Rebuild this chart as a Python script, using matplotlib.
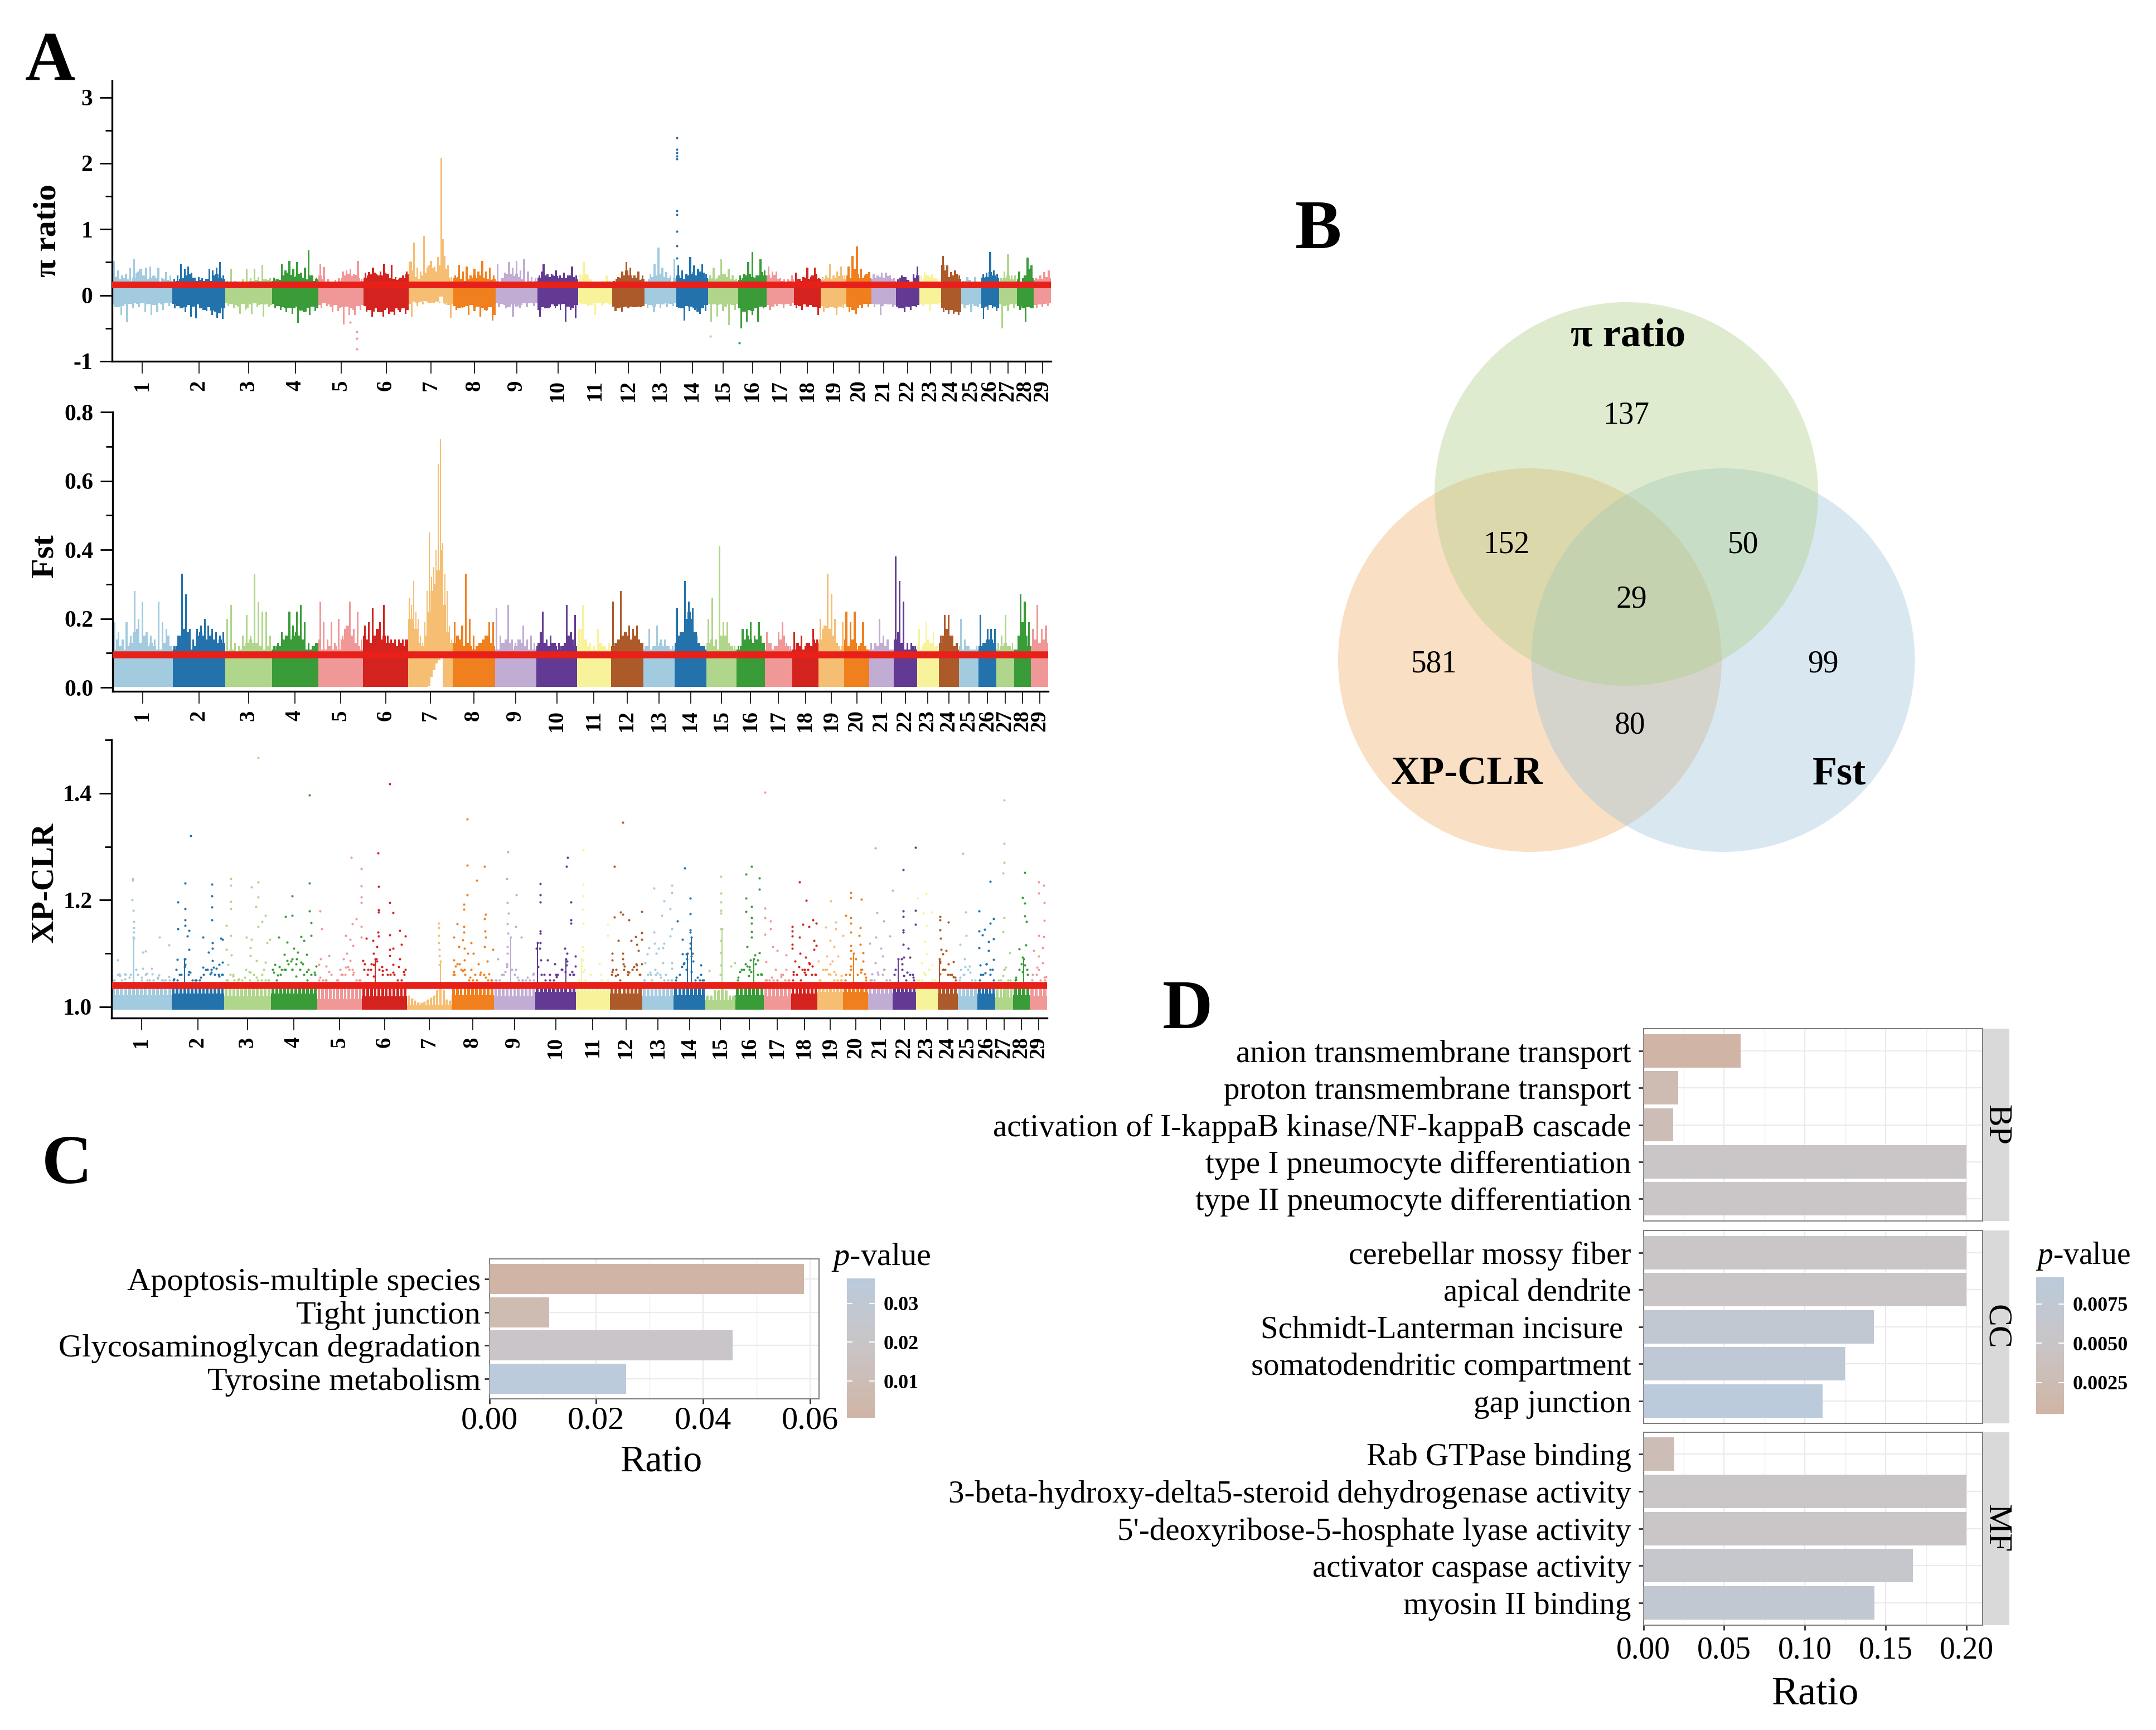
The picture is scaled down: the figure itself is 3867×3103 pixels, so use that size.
"""Selection-scan figure: three Manhattan panels, a Venn diagram and two enrichment bar panels."""
from __future__ import annotations

import numpy as np
import matplotlib

matplotlib.use("Agg")
import matplotlib.pyplot as plt
from matplotlib.colors import LinearSegmentedColormap, Normalize
from matplotlib.patches import Circle

W, H = 3867, 3103
SERIF = ["Liberation Serif", "DejaVu Sans"]
plt.rcParams["font.family"] = SERIF
plt.rcParams["axes.unicode_minus"] = False
plt.rcParams["mathtext.fontset"] = "custom"
plt.rcParams["mathtext.rm"] = "Liberation Serif"
plt.rcParams["mathtext.it"] = "Liberation Serif:italic"

# --------------------------------------------------------------------------- #
# Data: panel A
# --------------------------------------------------------------------------- #
chrom_labels = [str(i) for i in range(1, 30)]
chrom_lengths = [108, 95, 84, 83, 81, 81, 80, 76, 75, 73, 61, 58, 57, 57, 54, 51, 49,
                 48, 46, 45, 44, 42, 39, 36, 36, 32, 32, 30, 31]
palette = ["#A3CBDF", "#2372AC", "#AFD68A", "#3A9C38", "#F09898", "#D4231F",
           "#F5BE72", "#F07F1E", "#C1ACD3", "#623A94", "#F8F39A", "#AD5A2B"]

pi_line = 0.159
fst_line = 0.0955
xp_line = 1.041

# thin spikes above the threshold
pi_tips = [
    [.52, .38, .3, .33, .42, .55, .36, .3, .42, .44, .3, .42, .26, .35, .3],
    [.25, .3, .47, .4, .44, .34, .22, .28, .26, .2, .4, .38, .42, .5, .3],
    [.22, .4, .22, .21, .24, .4, .26, .4, .28, .46, .24, .26],
    [.27, .24, .48, .38, .52, .4, .5, .34, .42, .68, .3, .27],
    [.48, .43, .25, .21, .23, .26, .36, .38, .4, .32, .52, .25],
    [.34, .35, .42, .33, .36, .48, .28, .46, .28, .24, .3, .36],
    [.52, .8, .42, .36, .9, .42, .52, .44, .58, 2.08, .6, .45, .28],
    [.3, .46, .36, .44, .3, .4, .36, .52, .36, .42, .3],
    [.47, .26, .34, .5, .42, .52, .38, .55, .36, .28, .26],
    [.3, .47, .32, .33, .38, .3, .34, .3, .44, .3],
    [.32, .5, .3, .2, .21, .21, .22, .3, .2],
    [.22, .28, .36, .5, .42, .3, .36, .3],
    [.22, .32, .48, .72, .42, .35, .3, .55],
    [.45, .38, .33, .58, .45, .4, .47, .32],
    [.3, .42, .27, .55, .32, .4, .3, .25],
    [.3, .33, .5, .66, .3, .55, .38],
    [.44, .36, .36, .26, .24, .24, .3],
    [.34, .24, .28, .42, .28, .42, .26],
    [.28, .3, .48, .3, .36, .44, .3],
    [.44, .6, .74, .4, .3, .35],
    [.32, .3, .34, .34, .3, .26],
    [.24, .3, .28, .2, .32, .44],
    [.3, .36, .3, .32, .26, .2],
    [.6, .45, .35, .38, .3],
    [.22, .28, .2, .28, .2],
    [.32, .34, .66, .38, .32],
    [.26, .36, .62, .3, .3],
    [.36, .26, .57, .45],
    [.26, .3, .35, .38],
]
# dense profile just above the threshold
pi_fill = [
    [.3, .28, .25, .26, .24, .22, .27, .34, .4, .3, .24, .27, .29, .26, .21, .24, .23, .22],
    [.21, .22, .25, .26, .3, .33, .27, .22, .23, .22, .25, .22, .3, .32, .27, .25],
    [.2, .21, .2, .2, .2, .21, .21, .22, .22, .23, .22, .24, .23, .22],
    [.22, .24, .23, .3, .34, .31, .28, .3, .33, .27, .24, .3, .22, .24],
    [.3, .25, .2, .21, .19, .21, .22, .27, .3, .33, .29, .31, .26, .22],
    [.27, .3, .32, .34, .3, .3, .34, .33, .26, .25, .23, .27, .26, .32],
    [.5, .38, .28, .25, .3, .34, .45, .42, .36, .45, .85, .4, .27, .22],
    [.26, .28, .25, .22, .24, .27, .3, .26, .3, .27, .25, .23, .25],
    [.22, .2, .27, .33, .32, .29, .33, .28, .24, .21, .22, .21, .22],
    [.27, .36, .3, .28, .3, .29, .26, .27, .26, .3, .28, .24],
    [.2, .3, .32, .24, .2, .19, .19, .2, .22, .2],
    [.21, .25, .27, .3, .38, .3, .26, .27, .23, .25],
    [.2, .24, .28, .3, .33, .3, .28, .26, .2, .26],
    [.3, .26, .25, .3, .33, .35, .3, .36, .34, .26],
    [.24, .26, .24, .3, .33, .28, .24, .23, .22],
    [.23, .26, .3, .33, .28, .27, .3, .35, .3],
    [.3, .27, .31, .25, .22, .2, .22, .24],
    [.2, .25, .22, .27, .25, .3, .33, .25],
    [.23, .25, .27, .24, .26, .29, .3, .24],
    [.3, .26, .4, .32, .26, .27, .33, .26],
    [.25, .27, .28, .27, .29, .25, .22],
    [.21, .27, .28, .23, .2, .27, .3],
    [.22, .27, .3, .28, .26, .25, .2],
    [.46, .38, .28, .3, .33, .25],
    [.2, .22, .23, .2, .2, .2],
    [.27, .28, .35, .3, .27],
    [.22, .26, .3, .24, .22],
    [.24, .2, .3, .4, .26],
    [.23, .24, .25, .28, .26],
]
pi_down = [
    [-.18, -.3, -.41, -.2, -.18, -.26, -.3, -.26, -.22, -.16],
    [-.2, -.2, -.26, -.32, -.35, -.2, -.24, -.3, -.34, -.36],
    [-.16, -.2, -.28, -.22, -.28, -.18, -.32, -.18],
    [-.2, -.22, -.26, -.28, -.42, -.26, -.3, -.24],
    [-.2, -.16, -.26, -.24, -.44, -.3, -.3, -.22],
    [-.25, -.32, -.26, -.32, -.28, -.3, -.26, -.28],
    [-.32, -.16, -.14, -.12, -.12, -.12, -.14, -.34],
    [-.22, -.2, -.3, -.24, -.32, -.24, -.38],
    [-.18, -.2, -.32, -.2, -.18, -.16],
    [-.32, -.2, -.18, -.2, -.22, -.4, -.22, -.35],
    [-.14, -.16, -.3, -.16, -.14],
    [-.24, -.25, -.2, -.18, -.18],
    [-.2, -.26, -.2, -.18, -.16],
    [-.2, -.38, -.24, -.22, -.28, -.24],
    [-.4, -.32, -.24, -.45, -.22],
    [-.5, -.4, -.3, -.4, -.2],
    [-.22, -.16, -.2, -.16],
    [-.2, -.22, -.16, -.18, -.3],
    [-.26, -.16, -.3, -.2],
    [-.26, -.28, -.2, -.18],
    [-.18, -.3, -.14, -.18],
    [-.2, -.26, -.22, -.18],
    [-.16, -.24, -.14],
    [-.26, -.28, -.28, -.3],
    [-.2, -.26, -.18],
    [-.36, -.22, -.2, -.24],
    [-.5, -.24, -.2],
    [-.22, -.4, -.18],
    [-.2, -.18, -.16],
]
pi_band = [
    [-.14, -.18, -.16, -.14, -.13, -.12, -.13, -.12, -.14, -.13, -.15, -.12, -.14, -.11, -.12],
    [-.13, -.16, -.2, -.18, -.15, -.17, -.14, -.2, -.22, -.18, -.23, -.25, -.27, -.2],
    [-.12, -.13, -.15, -.17, -.13, -.2, -.14, -.12, -.15, -.13, -.14, -.15],
    [-.13, -.16, -.18, -.2, -.19, -.2, -.17, -.23, -.25, -.19, -.17, -.2],
    [-.15, -.12, -.14, -.17, -.15, -.2, -.18, -.17, -.2, -.22, -.16, -.15],
    [-.16, -.22, -.25, -.2, -.26, -.22, -.2, -.25, -.2, -.22, -.2, -.22],
    [-.13, -.1, -.11, -.1, -.09, -.1, -.11, -.1, -.1, -.02, -.12, -.15, -.13],
    [-.16, -.2, -.18, -.16, -.15, -.18, -.17, -.2, -.22, -.18, -.3],
    [-.12, -.13, -.15, -.18, -.14, -.17, -.15, -.12, -.12, -.11, -.12],
    [-.22, -.18, -.2, -.14, -.16, -.14, -.13, -.17, -.2, -.15],
    [-.12, -.13, -.14, -.15, -.12, -.12, -.13, -.12, -.14],
    [-.17, -.2, -.18, -.17, -.17, -.18, -.17, -.16],
    [-.13, -.15, -.17, -.13, -.14, -.12, -.13, -.12],
    [-.18, -.2, -.16, -.17, -.2, -.25, -.2, -.15],
    [-.13, -.14, -.15, -.14, -.17, -.14, -.15, -.13],
    [-.2, -.25, -.22, -.24, -.2, -.17, -.18],
    [-.15, -.17, -.14, -.13, -.14, -.13, -.12],
    [-.15, -.16, -.14, -.17, -.15, -.18, -.2],
    [-.16, -.2, -.18, -.2, -.17, -.14],
    [-.18, -.22, -.2, -.15, -.13, -.13],
    [-.13, -.14, -.16, -.13, -.14, -.15],
    [-.17, -.2, -.17, -.18, -.16, -.15],
    [-.13, -.14, -.13, -.13, -.12],
    [-.2, -.22, -.22, -.25, -.26],
    [-.14, -.15, -.13, -.16, -.13],
    [-.2, -.17, -.15, -.17, -.2],
    [-.14, -.16, -.15, -.13, -.14],
    [-.16, -.2, -.18, -.2],
    [-.15, -.14, -.13, -.12],
]
# isolated points as chromosome index, position within chromosome, value
pi_chr = [13, 13, 13, 13, 13, 13, 13, 13, 13, 13, 4, 4, 4, 4, 14, 15]
pi_pos = [.02, .02, .02, .02, .02, .02, .02, .02, .02, .02, .85, .85, .85, .7, .08, .03]
pi_val = [2.39, 2.21, 2.16, 2.11, 2.07, 1.28, 1.22, .97, .75, .56,
          -.55, -.65, -.81, -.41, -.62, -.72]

fst_tips = [
    [.19, .16, .14, .19, .15, .28, .2, .25, .16, .15, .14, .25, .19, .17, .12],
    [.12, .15, .33, .27, .17, .14, .17, .18, .2, .18, .17, .16, .15, .16],
    [.2, .24, .13, .12, .15, .21, .15, .33, .25, .22, .22, .15],
    [.12, .13, .16, .15, .22, .18, .22, .24, .19, .13, .12, .11],
    [.25, .19, .14, .19, .13, .2, .15, .18, .25, .17, .22, .14],
    [.18, .19, .23, .14, .19, .24, .15, .14, .14, .14, .14, .14],
    [.26, .24, .31, .22, .2, .15, .13, .19, .28, .45, .32, .35, .4, .65, .72, .42, .33, .28, .18, .14],
    [.19, .14, .18, .33, .2, .15, .12, .13, .15, .19, .19],
    [.23, .15, .13, .24, .14, .13, .14, .18, .14, .15, .13],
    [.13, .22, .14, .15, .13, .13, .12, .24, .16, .21],
    [.17, .24, .14, .13, .12, .17, .13, .12, .13],
    [.25, .13, .28, .16, .18, .17, .18, .13],
    [.12, .17, .12, .18, .14, .14, .12, .12],
    [.23, .16, .31, .25, .23, .15, .12, .12],
    [.2, .26, .14, .41, .19, .19, .12, .12],
    [.12, .17, .17, .19, .15, .19, .12],
    [.16, .13, .12, .16, .19, .13, .12],
    [.16, .13, .15, .12, .13, .17, .14],
    [.2, .18, .33, .27, .2, .12, .19],
    [.22, .19, .22, .12, .19, .11],
    [.13, .13, .2, .15, .14, .11],
    [.38, .31, .25, .13, .13, .12],
    [.17, .12, .19, .13, .16, .12],
    [.15, .21, .21, .15, .13],
    [.2, .14, .12, .11, .12],
    [.21, .13, .17, .17, .17],
    [.13, .15, .21, .12, .13],
    [.11, .27, .25, .19],
    [.17, .24, .17, .18],
]
fst_fill = [
    [.11, .14, .12, .11, .12, .13, .16, .17, .13, .15, .12, .13, .12, .11, .11, .13, .15, .11],
    [.11, .12, .15, .17, .16, .11, .12, .15, .16, .15, .14, .15, .14, .13, .14, .13],
    [.1, .11, .11, .1, .11, .12, .13, .14, .13, .13, .12, .11, .12, .11],
    [.11, .12, .12, .14, .15, .14, .15, .16, .15, .14, .11, .11, .12, .13],
    [.14, .11, .11, .12, .11, .12, .11, .14, .17, .18, .15, .13, .12, .11],
    [.15, .14, .13, .15, .17, .14, .15, .13, .13, .13, .12, .13, .12, .14],
    [.2, .2, .17, .13, .12, .15, .22, .28, .3, .34, .4, .24, .16, .13],
    [.13, .15, .14, .12, .13, .12, .11, .12, .13, .14, .15, .13, .12],
    [.11, .11, .13, .14, .13, .11, .12, .14, .13, .12, .11, .11, .11],
    [.12, .16, .13, .12, .13, .12, .11, .12, .13, .15, .14, .12],
    [.12, .17, .14, .12, .11, .11, .13, .12, .11, .11],
    [.12, .13, .14, .15, .16, .15, .14, .15, .14, .13],
    [.11, .12, .11, .12, .12, .13, .12, .12, .11, .11],
    [.13, .15, .16, .2, .22, .2, .16, .13, .12, .11],
    [.13, .14, .12, .11, .15, .15, .13, .12, .11],
    [.11, .12, .14, .15, .14, .13, .14, .15, .13],
    [.11, .13, .11, .12, .14, .15, .12, .11],
    [.11, .13, .12, .11, .13, .12, .14, .13],
    [.14, .17, .18, .17, .15, .13, .11, .12],
    [.14, .12, .14, .13, .11, .13, .12, .11],
    [.11, .11, .12, .13, .12, .11, .11],
    [.14, .16, .13, .11, .11, .12, .11],
    [.12, .11, .13, .14, .13, .12, .11],
    [.13, .15, .17, .15, .12, .11],
    [.12, .11, .12, .11, .11, .11],
    [.12, .13, .14, .14, .13],
    [.11, .12, .13, .12, .11],
    [.11, .15, .19, .15, .12],
    [.12, .14, .13, .14, .13],
]
fst_band = [[.002] for _ in chrom_lengths]
fst_band[6] = [.002, .002, .002, .002, .002, .002, .002, .002, .005, .03, .05, .07, .08, .09,
               .002, .002, .002, .002]

xp_floor = 0.9945
xp_solid = [1.022, 1.025, 1.02, 1.025, 1.015, 1.02, 1.004, 1.022, 1.02, 1.028, 1.03, 1.025,
            1.02, 1.022, 1.012, 1.022, 1.02, 1.025, 1.028, 1.028, 1.025, 1.028, 1.034,
            1.025, 1.02, 1.025, 1.018, 1.022, 1.02]
xp_tips = [
    [1.05, 1.06, 1.05, 1.06, 1.055, 1.13, 1.06, 1.05, 1.06, 1.05, 1.05, 1.055, 1.05, 1.05, 1.05],
    [1.05, 1.05, 1.06, 1.09, 1.06, 1.05, 1.05, 1.05, 1.06, 1.07, 1.07, 1.06, 1.06, 1.06],
    [1.05, 1.06, 1.05, 1.05, 1.05, 1.07, 1.05, 1.06, 1.05, 1.05, 1.05, 1.05],
    [1.07, 1.05, 1.06, 1.07, 1.08, 1.07, 1.08, 1.07, 1.06, 1.05, 1.06, 1.06],
    [1.05, 1.05, 1.05, 1.04, 1.04, 1.05, 1.06, 1.06, 1.07, 1.06, 1.05, 1.05],
    [1.07, 1.06, 1.08, 1.09, 1.07, 1.06, 1.07, 1.06, 1.06, 1.05, 1.05, 1.07],
    [1.02, 1.014, 1.01, 1.007, 1.006, 1.008, 1.012, 1.016, 1.02, 1.03, 1.085, 1.03, 1.012, 1.01],
    [1.06, 1.08, 1.07, 1.06, 1.05, 1.05, 1.05, 1.06, 1.06, 1.05, 1.05],
    [1.05, 1.05, 1.06, 1.075, 1.13, 1.06, 1.05, 1.05, 1.05, 1.05, 1.05],
    [1.12, 1.06, 1.05, 1.06, 1.05, 1.06, 1.07, 1.09, 1.06, 1.06],
    [1.04, 1.09, 1.05, 1.04, 1.04, 1.04, 1.04, 1.04, 1.05],
    [1.06, 1.07, 1.05, 1.07, 1.06, 1.07, 1.08, 1.06],
    [1.05, 1.06, 1.05, 1.06, 1.06, 1.05, 1.05, 1.05],
    [1.05, 1.06, 1.08, 1.1, 1.13, 1.05, 1.05, 1.05],
    [1.02, 1.02, 1.03, 1.03, 1.146, 1.03, 1.02, 1.02],
    [1.05, 1.07, 1.08, 1.07, 1.09, 1.06, 1.06],
    [1.05, 1.05, 1.05, 1.05, 1.06, 1.05, 1.05],
    [1.05, 1.06, 1.05, 1.07, 1.07, 1.06, 1.06],
    [1.05, 1.07, 1.07, 1.06, 1.05, 1.05, 1.05],
    [1.05, 1.06, 1.1, 1.06, 1.07, 1.05],
    [1.05, 1.05, 1.06, 1.06, 1.05, 1.04],
    [1.06, 1.09, 1.08, 1.05, 1.06, 1.05],
    [1.05, 1.05, 1.06, 1.07, 1.05, 1.04],
    [1.09, 1.07, 1.06, 1.06, 1.05],
    [1.05, 1.06, 1.07, 1.05, 1.04],
    [1.05, 1.06, 1.08, 1.07, 1.05],
    [1.04, 1.05, 1.07, 1.05, 1.04],
    [1.05, 1.07, 1.09, 1.06],
    [1.05, 1.06, 1.05, 1.05],
]
# second row of points close to the threshold
xp_near = [
    [1.05, 1.058, 1.052, 1.06, 1.07, 1.055, 1.05, 1.062, 1.053, 1.05, 1.056],
    [1.052, 1.06, 1.075, 1.065, 1.05, 1.055, 1.07, 1.065, 1.072, 1.06],
    [1.05, 1.06, 1.052, 1.055, 1.065, 1.055, 1.06, 1.05],
    [1.065, 1.075, 1.07, 1.085, 1.09, 1.08, 1.07, 1.065],
    [1.055, 1.05, 1.06, 1.05, 1.06, 1.075, 1.065, 1.05],
    [1.08, 1.07, 1.09, 1.075, 1.06, 1.065, 1.075, 1.06],
    [1.04],
    [1.06, 1.08, 1.07, 1.055, 1.06, 1.065, 1.055, 1.05],
    [1.05, 1.06, 1.08, 1.07, 1.055, 1.05, 1.055, 1.06],
    [1.075, 1.06, 1.05, 1.06, 1.07, 1.085, 1.06],
    [1.05, 1.07, 1.045, 1.045, 1.05, 1.045],
    [1.07, 1.06, 1.08, 1.065, 1.075, 1.06],
    [1.05, 1.065, 1.07, 1.055, 1.06, 1.05],
    [1.055, 1.075, 1.09, 1.1, 1.055, 1.05],
    [1.045, 1.045, 1.06, 1.045, 1.045],
    [1.055, 1.07, 1.075, 1.08, 1.06],
    [1.05, 1.055, 1.05, 1.06, 1.05],
    [1.06, 1.075, 1.065, 1.08, 1.06],
    [1.05, 1.07, 1.08, 1.06, 1.05],
    [1.06, 1.07, 1.09, 1.065, 1.055],
    [1.05, 1.065, 1.07, 1.05],
    [1.07, 1.09, 1.065, 1.055],
    [1.05, 1.065, 1.07, 1.05],
    [1.085, 1.07, 1.06, 1.055],
    [1.055, 1.075, 1.065, 1.05],
    [1.06, 1.08, 1.07],
    [1.05, 1.07, 1.05],
    [1.055, 1.08, 1.07],
    [1.06, 1.07, 1.055],
]
# (position within chromosome, XP-CLR value), one list per chromosome
xp_points = [
    [(.35, 1.24), (.35, 1.237), (.34, 1.2), (.36, 1.18), (.37, 1.16), (.37, 1.148), (.37, 1.14), (.37, 1.128),
     (.8, 1.13), (.96, 1.116), (.52, 1.102), (.57, 1.104), (.1, 1.088), (.52, 1.072), (.67, 1.072), (.13, 1.061),
     (.22, 1.061), (.59, 1.063), (.79, 1.059)],
    [(.36, 1.32), (.26, 1.232), (.76, 1.23), (.76, 1.208), (.12, 1.196), (.26, 1.184), (.76, 1.187), (.26, 1.163),
     (.76, 1.163), (.26, 1.152), (.12, 1.146), (.33, 1.143), (.3, 1.133), (.6, 1.13), (.77, 1.12), (.93, 1.128),
     (.97, 1.126), (.33, 1.107), (.77, 1.109), (.7, 1.102), (.26, 1.09), (.77, 1.087), (.97, 1.083), (.11, 1.089),
     (.26, 1.079), (.6, 1.074), (.8, 1.074), (.9, 1.079), (.33, 1.066), (.09, 1.07), (.73, 1.061), (.9, 1.057)],
    [(.14, 1.24), (.14, 1.228), (.72, 1.467), (.72, 1.234), (.58, 1.224), (.72, 1.206), (.14, 1.197), (.68, 1.188),
     (.14, 1.184), (.88, 1.171), (.81, 1.16), (.05, 1.152), (.73, 1.15), (.14, 1.134), (.48, 1.13), (.58, 1.126),
     (.98, 1.126), (.92, 1.12), (.56, 1.111), (.04, 1.107), (.15, 1.097), (.56, 1.096), (.69, 1.087), (.88, 1.083),
     (.08, 1.079), (.54, 1.066), (.85, 1.07), (.19, 1.057)],
    [(.83, 1.397), (.83, 1.232), (.46, 1.208), (.83, 1.179), (.46, 1.171), (.32, 1.169), (.87, 1.158), (.87, 1.134),
     (.17, 1.13), (.65, 1.131), (.35, 1.121), (.71, 1.124), (.5, 1.109), (.58, 1.102), (.29, 1.098), (.78, 1.098),
     (.46, 1.09), (.35, 1.087), (.65, 1.083), (.08, 1.079), (.98, 1.076), (.46, 1.07), (.23, 1.07), (.77, 1.066),
     (.15, 1.059), (.54, 1.057)],
    [(.76, 1.28), (.98, 1.259), (.98, 1.226), (.98, 1.206), (.98, 1.195), (.06, 1.179), (.875, 1.165), (.78, 1.155),
     (.1, 1.146), (.98, 1.15), (.64, 1.134), (.98, 1.13), (.74, 1.126), (.8, 1.115), (.66, 1.1), (.27, 1.096),
     (.08, 1.09), (.59, 1.09), (.74, 1.087), (.04, 1.079), (.2, 1.076), (.63, 1.074), (.78, 1.07), (.27, 1.066),
     (.51, 1.07)],
    [(.62, 1.417), (.35, 1.288), (.37, 1.225), (.62, 1.195), (.37, 1.182), (.69, 1.176), (.37, 1.177), (.84, 1.143),
     (.35, 1.14), (.62, 1.135), (.37, 1.133), (.96, 1.133), (.09, 1.128), (.24, 1.124), (.88, 1.117), (.33, 1.113),
     (.69, 1.109), (.62, 1.107), (.25, 1.1), (.62, 1.096), (.84, 1.09), (.02, 1.087), (.33, 1.085), (.25, 1.079),
     (.69, 1.079), (.13, 1.07), (.45, 1.068), (.92, 1.066), (.25, 1.057)],
    [(.72, 1.157), (.72, 1.148), (.72, 1.134), (.72, 1.12), (.73, 1.107), (.73, 1.096), (.73, 1.079)],
    [(.37, 1.352), (.37, 1.265), (.78, 1.263), (.6, 1.237), (.37, 1.21), (.29, 1.192), (.29, 1.183), (.81, 1.173),
     (.78, 1.165), (.13, 1.155), (.29, 1.15), (.29, 1.14), (.79, 1.142), (.06, 1.13), (.81, 1.13), (.27, 1.125),
     (.47, 1.12), (.18, 1.113), (.78, 1.113), (.31, 1.11), (.98, 1.107), (.39, 1.1), (.52, 1.1), (.06, 1.088),
     (.31, 1.088), (.64, 1.08), (.85, 1.085), (.1, 1.076), (.27, 1.068), (.47, 1.07), (.06, 1.066), (.89, 1.061)],
    [(.34, 1.29), (.32, 1.24), (.54, 1.21), (.33, 1.195), (.36, 1.175), (.33, 1.155), (.53, 1.15), (.34, 1.138),
     (.66, 1.13), (.33, 1.113), (.33, 1.1), (.1, 1.09), (.32, 1.079), (.53, 1.07), (.27, 1.066), (.96, 1.063)],
    [(.12, 1.231), (.12, 1.21), (.12, 1.196), (.79, 1.28), (.77, 1.263), (.87, 1.196), (.87, 1.163), (.87, 1.157),
     (.12, 1.142), (.12, 1.138), (.12, 1.12), (.02, 1.109), (.1, 1.109), (.72, 1.109), (.78, 1.1), (.98, 1.095),
     (.13, 1.088), (.3, 1.088), (.48, 1.08), (.77, 1.078), (.99, 1.076), (.52, 1.056), (.74, 1.066), (.91, 1.066)],
    [(.22, 1.294), (.22, 1.23), (.22, 1.208), (.19, 1.183), (.21, 1.157), (.94, 1.154), (.19, 1.113), (.94, 1.134),
     (.21, 1.105), (.21, 1.088), (.16, 1.076), (.69, 1.08), (.21, 1.066), (.74, 1.06), (.43, 1.06)],
    [(.41, 1.345), (.14, 1.263), (.34, 1.177), (.14, 1.168), (.41, 1.173), (.99, 1.178), (.59, 1.163), (.99, 1.139),
     (.26, 1.124), (.66, 1.124), (.8, 1.131), (.99, 1.126), (.83, 1.117), (.88, 1.105), (.07, 1.1), (.41, 1.1),
     (.07, 1.088), (.41, 1.09), (.83, 1.078), (.45, 1.076), (.99, 1.08), (.07, 1.066), (.55, 1.066), (.83, 1.07),
     (.17, 1.058)],
    [(.38, 1.222), (.94, 1.227), (.94, 1.214), (.69, 1.198), (.89, 1.184), (.63, 1.171), (.94, 1.146), (.38, 1.14),
     (.89, 1.132), (.4, 1.119), (.7, 1.119), (.21, 1.111), (.52, 1.109), (.66, 1.111), (.16, 1.099), (.44, 1.1),
     (.1, 1.082), (.66, 1.082), (.94, 1.082), (.49, 1.064), (.27, 1.06), (.94, 1.072)],
    [(.34, 1.26), (.53, 1.203), (.53, 1.174), (.12, 1.161), (.53, 1.144), (.53, 1.14), (.28, 1.126), (.53, 1.119),
     (.53, 1.109), (.28, 1.099), (.39, 1.099), (.56, 1.095), (.33, 1.082), (.61, 1.086), (.86, 1.078), (.39, 1.07),
     (.56, 1.066), (.86, 1.06)],
    [(.52, 1.244), (.52, 1.213), (.52, 1.196), (.52, 1.181), (.52, 1.175), (.52, 1.146), (.52, 1.124), (.52, 1.101),
     (.52, 1.078), (.12, 1.068), (.85, 1.076), (.99, 1.082)],
    [(.57, 1.263), (.38, 1.248), (.85, 1.241), (.85, 1.22), (.38, 1.203), (.57, 1.188), (.38, 1.178), (.57, 1.167),
     (.57, 1.157), (.57, 1.141), (.57, 1.13), (.41, 1.113), (.84, 1.101), (.68, 1.097), (.53, 1.088), (.78, 1.088),
     (.41, 1.076), (.56, 1.066), (.16, 1.066), (.9, 1.062), (.47, 1.058)],
    [(.04, 1.402), (.04, 1.185), (.04, 1.167), (.25, 1.161), (.25, 1.146), (.04, 1.136), (.33, 1.113), (.49, 1.105),
     (.83, 1.097), (.09, 1.084), (.43, 1.07), (.83, 1.07), (.63, 1.056)],
    [(.32, 1.234), (.57, 1.199), (.83, 1.163), (.94, 1.156), (.44, 1.154), (.68, 1.15), (.05, 1.15), (.05, 1.142),
     (.05, 1.132), (.32, 1.13), (.87, 1.124), (.05, 1.117), (.94, 1.115), (.05, 1.109), (.87, 1.107), (.35, 1.1),
     (.55, 1.093), (.16, 1.086), (.68, 1.082), (.42, 1.07), (.81, 1.076), (.09, 1.066), (.55, 1.06)],
    [(.51, 1.198), (.71, 1.159), (.31, 1.149), (.71, 1.146), (.99, 1.134), (.5, 1.124), (.64, 1.113), (.36, 1.095),
     (.79, 1.095), (.57, 1.086), (.03, 1.086), (.64, 1.066), (.43, 1.062), (.93, 1.058)],
    [(.31, 1.214), (.31, 1.205), (.73, 1.201), (.11, 1.171), (.3, 1.167), (.3, 1.157), (.69, 1.148), (.3, 1.14),
     (.64, 1.134), (.3, 1.115), (.69, 1.117), (.3, 1.105), (.79, 1.101), (.3, 1.091), (.79, 1.086), (.3, 1.076),
     (.71, 1.07), (.86, 1.062)],
    [(.29, 1.297), (.99, 1.218), (.37, 1.176), (.63, 1.161), (.88, 1.132), (.32, 1.13), (.07, 1.119), (.51, 1.109),
     (.59, 1.095), (.29, 1.082), (.66, 1.07), (.15, 1.062)],
    [(.99, 1.298), (.45, 1.257), (.99, 1.18), (.45, 1.179), (.45, 1.169), (.99, 1.154), (.45, 1.144), (.45, 1.14),
     (.45, 1.117), (.66, 1.109), (.48, 1.093), (.75, 1.093), (.4, 1.07), (.85, 1.06), (.48, 1.058)],
    [(.47, 1.212), (.08, 1.204), (.33, 1.175), (.72, 1.177), (.5, 1.152), (.42, 1.122), (.5, 1.099), (.25, 1.082),
     (.75, 1.078), (.42, 1.06)],
    [(.11, 1.169), (.11, 1.163), (.53, 1.159), (.11, 1.144), (.14, 1.128), (.18, 1.107), (.44, 1.105), (.26, 1.099),
     (.79, 1.084), (.12, 1.082), (.53, 1.08), (.26, 1.07), (.12, 1.062), (.79, 1.056)],
    [(.25, 1.287), (.39, 1.177), (.43, 1.134), (.11, 1.117), (.36, 1.09), (.14, 1.07), (.59, 1.076), (.32, 1.06)],
    [(.71, 1.235), (.08, 1.179), (.88, 1.165), (.71, 1.157), (.38, 1.145), (.08, 1.142), (.27, 1.135), (.9, 1.127),
     (.62, 1.122), (.08, 1.111), (.62, 1.105), (.9, 1.089), (.13, 1.078), (.42, 1.064), (.71, 1.06)],
    [(.5, 1.387), (.5, 1.306), (.5, 1.27), (.44, 1.25), (.5, 1.167), (.44, 1.141), (.79, 1.101), (.58, 1.074),
     (.42, 1.058)],
    [(.7, 1.251), (.57, 1.205), (.7, 1.194), (.7, 1.17), (.79, 1.16), (.77, 1.116), (.36, 1.108), (.57, 1.093),
     (.68, 1.078), (.57, 1.066), (.15, 1.051)],
    [(.5, 1.234), (.79, 1.228), (.52, 1.213), (.83, 1.195), (.83, 1.162), (.5, 1.134), (.79, 1.131), (.21, 1.105),
     (.73, 1.111), (.52, 1.095), (.42, 1.074), (.73, 1.082), (.94, 1.056)],
]

# --------------------------------------------------------------------------- #
# Data: panels B, C, D
# --------------------------------------------------------------------------- #
venn_counts = ["137", "152", "50", "29", "581", "99", "80"]
venn_sets = ["\u03c0 ratio", "XP-CLR", "Fst"]

kegg_terms = ["Apoptosis-multiple species", "Tight junction",
              "Glycosaminoglycan degradation", "Tyrosine metabolism"]
kegg_ratio = [0.0589, 0.0112, 0.0455, 0.0256]
kegg_p = [0.0006, 0.008, 0.02, 0.036]

bp_terms = ["anion transmembrane transport", "proton transmembrane transport",
            "activation of I-kappaB kinase/NF-kappaB cascade",
            "type I pneumocyte differentiation", "type II pneumocyte differentiation"]
bp_ratio = [0.0601, 0.0217, 0.0183, 0.2, 0.2]
bp_p = [0.0005, 0.0022, 0.0028, 0.0048, 0.0048]

cc_terms = ["cerebellar mossy fiber", "apical dendrite", "Schmidt-Lanterman incisure ",
            "somatodendritic compartment", "gap junction"]
cc_ratio = [0.2, 0.2, 0.1426, 0.1248, 0.1107]
cc_p = [0.0048, 0.0048, 0.0072, 0.008, 0.0092]

mf_terms = ["Rab GTPase binding", "3-beta-hydroxy-delta5-steroid dehydrogenase activity",
            "5'-deoxyribose-5-hosphate lyase activity", "activator caspase activity",
            "myosin II binding"]
mf_ratio = [0.019, 0.2, 0.2, 0.1666, 0.1429]
mf_p = [0.0028, 0.0048, 0.0048, 0.0062, 0.0072]

pvalue_cmap = LinearSegmentedColormap.from_list("pvalue", ["#D0B5A6", "#CAC5C6", "#BBCBDC"])


def add_box(fig, left, top, right, bottom):
    """Axes placed by pixel edges of the final picture."""
    return fig.add_axes([left / W, 1 - bottom / H, (right - left) / W, (bottom - top) / H])


# --------------------------------------------------------------------------- #
# Panel A helpers
# --------------------------------------------------------------------------- #
def bin_centers(start, length, n):
    step = length / n
    return start + step * (np.arange(n) + 0.5), step


def comb(ax, start, length, tips, base, color, frac=0.5):
    tips = np.asarray(tips, dtype=float)
    centers, step = bin_centers(start, length, len(tips))
    ax.bar(centers, tips - base, bottom=base, width=step * frac, color=color, linewidth=0)


def dots(ax, start, length, values, color):
    centers, _ = bin_centers(start, length, len(values))
    ax.scatter(centers, values, s=9, color=color, linewidths=0)


def style_manhattan(ax, starts, ylim, major, minor, major_fmt):
    ax.set_xlim(0, sum(chrom_lengths))
    ax.set_ylim(*ylim)
    ax.set_xticks([s + l / 2 for s, l in zip(starts, chrom_lengths)])
    ax.set_xticklabels(chrom_labels, rotation=90, fontsize=28, fontweight="bold")
    ax.tick_params(axis="x", length=16, width=1.2, pad=8)
    ax.set_yticks(major)
    ax.set_yticklabels([major_fmt.format(v) for v in major], fontsize=30, fontweight="bold")
    ax.set_yticks(minor, minor=True)
    ax.tick_params(axis="y", which="major", length=16, width=2, pad=9)
    ax.tick_params(axis="y", which="minor", length=9, width=2)
    ax.spines[["top", "right"]].set_visible(False)
    ax.spines[["left", "bottom"]].set_linewidth(2.4)


def draw_panel_a(fig):
    starts = np.concatenate([[0], np.cumsum(chrom_lengths)[:-1]])
    colors = [palette[i % 12] for i in range(29)]

    ax = add_box(fig, 201, 145, 1885, 648)
    for i, (s, l) in enumerate(zip(starts, chrom_lengths)):
        # band from the lower edge up to the threshold, then the profile and spikes
        comb(ax, s, l, pi_band[i], pi_line, colors[i], frac=1.0)
        comb(ax, s, l, pi_fill[i], pi_line, colors[i], frac=1.0)
        comb(ax, s, l, pi_tips[i], pi_line, colors[i], frac=0.5)
        comb(ax, s, l, pi_down[i], -0.1, colors[i], frac=0.3)
    for c, f, v in zip(pi_chr, pi_pos, pi_val):
        ax.scatter(starts[c] + f * chrom_lengths[c], v, s=9, color=colors[c], linewidths=0)
    ax.axhline(pi_line, color="#E8201A", lw=8.6, solid_capstyle="butt", zorder=4)
    style_manhattan(ax, starts, (-1, 3.25), [-1, 0, 1, 2, 3], [-.5, .5, 1.5, 2.5], "{:d}")

    ax = add_box(fig, 202, 739, 1880, 1240)
    for i, (s, l) in enumerate(zip(starts, chrom_lengths)):
        comb(ax, s, l, fst_band[i], fst_line, colors[i], frac=1.0)
        comb(ax, s, l, fst_fill[i], fst_line, colors[i], frac=1.0)
        comb(ax, s, l, fst_tips[i], fst_line, colors[i], frac=0.45)
    ax.axhline(fst_line, color="#E8201A", lw=9, solid_capstyle="butt", zorder=4)
    style_manhattan(ax, starts, (-0.0113, 0.8), [0, .2, .4, .6, .8], [.1, .3, .5, .7], "{:.1f}")

    ax = add_box(fig, 200, 1327, 1878, 1826)
    for i, (s, l) in enumerate(zip(starts, chrom_lengths)):
        base = xp_solid[i]
        tips = np.array(xp_tips[i])
        comb(ax, s, l, [xp_floor], base, colors[i], frac=1.0)
        # speckled strip under the threshold, columns where the points pile up
        comb(ax, s, l, np.minimum(tips, xp_line), base, colors[i], frac=0.7)
        comb(ax, s, l, np.where(tips >= 1.085, tips, base), base, colors[i], frac=0.3)
        dots(ax, s, l, tips, colors[i])
        dots(ax, s, l, xp_near[i], colors[i])
        pts = np.array(xp_points[i])
        ax.scatter(s + pts[:, 0] * l, pts[:, 1], s=9, color=colors[i], linewidths=0)
    ax.axhline(xp_line, color="#E8201A", lw=9, solid_capstyle="butt", zorder=4)
    style_manhattan(ax, starts, (0.979, 1.5), [1.0, 1.2, 1.4], [1.1, 1.3, 1.5], "{:.1f}")


# --------------------------------------------------------------------------- #
# Panels C, D helpers
# --------------------------------------------------------------------------- #
def draw_bars(ax, terms, ratio, pvals, norm, xlim, xmajor, xminor, label_size, pad):
    y = np.arange(len(terms))
    ax.set_axisbelow(True)
    ax.barh(y, ratio, height=0.9, color=pvalue_cmap(norm(pvals)), linewidth=0, zorder=3)
    ax.set_xlim(*xlim)
    ax.set_ylim(len(terms) - 0.4, -0.6)
    ax.set_yticks(y)
    ax.set_yticklabels(terms, fontsize=label_size)
    ax.tick_params(axis="y", length=6.5, width=2, pad=pad, color="#333333")
    ax.set_xticks(xmajor)
    ax.set_xticks(xminor, minor=True)
    ax.grid(True, which="major", color="#EBEBEB", lw=1.6)
    ax.grid(True, which="minor", axis="x", color="#EFEFEF", lw=1.0)
    ax.tick_params(axis="x", which="minor", length=0)
    for spine in ax.spines.values():
        spine.set_color("#7F7F7F")
        spine.set_linewidth(1.5)


def draw_colorbar(fig, left, top, right, bottom, norm, ticks, fmt):
    cax = add_box(fig, left, top, right, bottom)
    gradient = np.linspace(norm.vmin, norm.vmax, 256)[:, None]
    cax.imshow(gradient, aspect="auto", origin="lower", cmap=pvalue_cmap, norm=norm,
               extent=[0, 1, norm.vmin, norm.vmax])
    cax.hlines(ticks, 0, 0.2, color="white", lw=1.5)
    cax.hlines(ticks, 0.8, 1, color="white", lw=1.5)
    cax.set_xticks([])
    cax.yaxis.tick_right()
    cax.set_yticks(ticks)
    cax.set_yticklabels([fmt.format(t) for t in ticks], fontsize=26, fontweight="bold")
    cax.tick_params(axis="y", length=0, pad=11)
    for spine in cax.spines.values():
        spine.set_visible(False)


def draw_panel_c(fig):
    norm = Normalize(0.00057, 0.0364)
    ax = add_box(fig, 877.5, 2258, 1469, 2509)
    draw_bars(ax, kegg_terms, kegg_ratio, kegg_p, norm, (0, 0.0617), [0, .02, .04, .06],
              [.01, .03, .05], 42, 4.5)
    ax.set_xticklabels(["0.00", "0.02", "0.04", "0.06"], fontsize=42)
    ax.tick_params(axis="x", which="major", length=6.5, width=2, pad=3, color="#333333")
    draw_colorbar(fig, 1519, 2293, 1569, 2543, norm, [.01, .02, .03], "{:.2f}")


def draw_panel_d(fig):
    norm = Normalize(0.00051, 0.0092)
    groups = [(bp_terms, bp_ratio, bp_p, 1845, 2190, "BP"),
              (cc_terms, cc_ratio, cc_p, 2207, 2552.6, "CC"),
              (mf_terms, mf_ratio, mf_p, 2568.5, 2914.6, "MF")]
    for terms, ratio, pvals, top, bottom, strip in groups:
        ax = add_box(fig, 2947.5, top, 3555.6, bottom)
        draw_bars(ax, terms, ratio, pvals, norm, (0, 0.2097), [0, .05, .1, .15, .2],
                  [.025, .075, .125, .175], 41, 9)
        if strip == "MF":
            ax.set_xticklabels(["0.00", "0.05", "0.10", "0.15", "0.20"], fontsize=40)
            ax.tick_params(axis="x", which="major", length=6.5, width=2, pad=8, color="#333333")
        else:
            ax.tick_params(axis="x", which="major", length=0, labelbottom=False)
        sax = add_box(fig, 3557, top, 3604, bottom)
        sax.set_facecolor("#D9D9D9")
        sax.set_xticks([])
        sax.set_yticks([])
        for spine in sax.spines.values():
            spine.set_visible(False)
        sax.text(0.5, 0.5, strip, rotation=-90, ha="center", va="center", fontsize=43,
                 transform=sax.transAxes)
    draw_colorbar(fig, 3652, 2291, 3702, 2536, norm, [.0025, .005, .0075], "{:.4f}")


def draw_overlay(fig):
    ov = fig.add_axes([0, 0, 1, 1], zorder=10)
    ov.set_xlim(0, W)
    ov.set_ylim(H, 0)
    ov.axis("off")

    # Venn circles
    radius = 344
    ov.add_patch(Circle((2744, 1184), radius, facecolor="#F2B06A", alpha=0.4, linewidth=0))
    ov.add_patch(Circle((3090.5, 1184), radius, facecolor="#A0C5DC", alpha=0.4, linewidth=0))
    ov.add_patch(Circle((2917, 886), radius, facecolor="#AFCF87", alpha=0.4, linewidth=0))
    count_xy = [(2917, 745), (2702, 977), (3126, 977), (2926, 1076), (2572, 1192), (3270, 1192), (2924, 1302)]
    for text, (x, y) in zip(venn_counts, count_xy):
        ov.text(x, y, text, ha="center", va="center", fontsize=40)
    set_xy = [(2920, 603), (2631, 1389), (3299, 1389)]
    for text, (x, y) in zip(venn_sets, set_xy):
        ov.text(x, y, text, ha="center", va="center", fontsize=52, fontweight="bold")

    # Panel letters
    for text, x, y in [("A", 45, 143), ("B", 2323, 445), ("C", 75, 2122), ("D", 2085, 1844)]:
        ov.text(x, y, text, ha="left", va="baseline", fontsize=90, fontweight="bold")

    # Manhattan axis titles
    ov.text(86, 414, "\u03c0 ratio", rotation=90, ha="center", va="center", fontsize=42, fontweight="bold")
    ov.text(81, 997, "Fst", rotation=90, ha="center", va="center", fontsize=42, fontweight="bold")
    ov.text(80, 1583, "XP-CLR", rotation=90, ha="center", va="center", fontsize=41, fontweight="bold")

    # Bar panel titles
    ov.text(1186, 2640, "Ratio", ha="center", va="baseline", fontsize=49)
    ov.text(3256, 3058, "Ratio", ha="center", va="baseline", fontsize=52)
    ov.text(1580, 2269, r"$\mathit{p}$-value", ha="center", va="baseline", fontsize=42)
    ov.text(3736, 2267, r"$\mathit{p}$-value", ha="center", va="baseline", fontsize=40)


def main() -> None:
    fig = plt.figure(figsize=(W / 100, H / 100), dpi=100)
    draw_panel_a(fig)
    draw_panel_c(fig)
    draw_panel_d(fig)
    draw_overlay(fig)
    fig.savefig("out.png", dpi=100)


if __name__ == "__main__":
    main()
